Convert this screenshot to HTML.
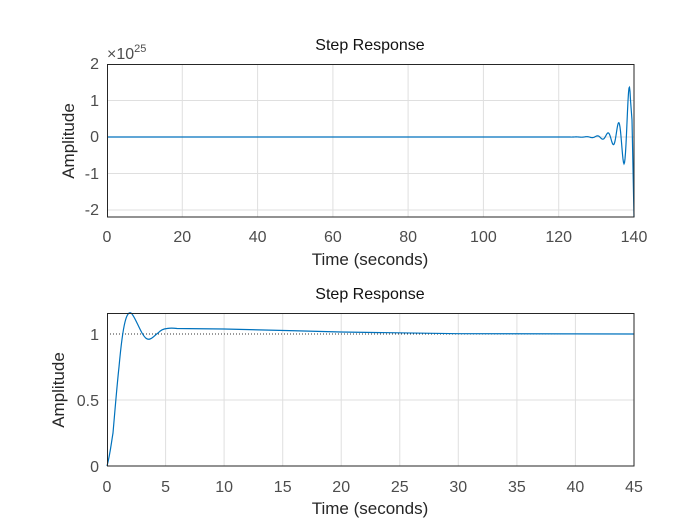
<!DOCTYPE html>
<html><head><style>body{margin:0;background:#fff}svg{display:block}</style></head><body>
<svg width="700" height="525" xmlns="http://www.w3.org/2000/svg" font-family="Liberation Sans, sans-serif">
<rect width="700" height="525" fill="#fff"/>
<!-- TOP -->
<g stroke="#dfdfdf" stroke-width="1">
<line x1="182.3" y1="64" x2="182.3" y2="217"/><line x1="257.6" y1="64" x2="257.6" y2="217"/><line x1="332.9" y1="64" x2="332.9" y2="217"/><line x1="408.1" y1="64" x2="408.1" y2="217"/><line x1="483.4" y1="64" x2="483.4" y2="217"/><line x1="558.7" y1="64" x2="558.7" y2="217"/>
<line x1="107" y1="100.5" x2="634" y2="100.5"/><line x1="107" y1="137" x2="634" y2="137"/><line x1="107" y1="173.5" x2="634" y2="173.5"/><line x1="107" y1="210" x2="634" y2="210"/>
</g>
<path id="osc" d="M107,137 L634,137" fill="none" stroke="#0072bd" stroke-width="1.2"/>
<script>
(function(){var d="M107,137 L570,137";for(var x=570;x<=630.5;x+=0.5){var A=49*Math.exp((x-629)/8.5);var y=137-A*Math.cos(Math.PI*(x-629)/5.3);d+=" L"+x+","+y.toFixed(2);}d+=" L632,120 L634,217";document.getElementById("osc").setAttribute("d",d);})();
</script>
<rect x="107.5" y="64.5" width="526.5" height="152.5" fill="none" stroke="#262626" stroke-width="1"/>
<g fill="#4d4d4d" font-size="16" text-anchor="middle">
<text x="107" y="242">0</text><text x="182.3" y="242">20</text><text x="257.6" y="242">40</text><text x="332.9" y="242">60</text><text x="408.1" y="242">80</text><text x="483.4" y="242">100</text><text x="558.7" y="242">120</text><text x="634" y="242">140</text>
</g>
<g fill="#4d4d4d" font-size="16" text-anchor="end">
<text x="99" y="69">2</text><text x="99" y="106">1</text><text x="99" y="142">0</text><text x="99" y="179">-1</text><text x="99" y="215">-2</text>
</g>
<text x="107" y="59" fill="#4d4d4d" font-size="16">×10<tspan font-size="11" dy="-7">25</tspan></text>
<text x="370" y="50" font-size="16" text-anchor="middle" fill="#111">Step Response</text>
<text x="370" y="265" font-size="17" text-anchor="middle" fill="#262626">Time (seconds)</text>
<text transform="translate(74,141) rotate(-90)" font-size="17" text-anchor="middle" fill="#262626">Amplitude</text>
<!-- BOTTOM -->
<g stroke="#dfdfdf" stroke-width="1">
<line x1="165.6" y1="313" x2="165.6" y2="466"/><line x1="224.1" y1="313" x2="224.1" y2="466"/><line x1="282.7" y1="313" x2="282.7" y2="466"/><line x1="341.2" y1="313" x2="341.2" y2="466"/><line x1="399.8" y1="313" x2="399.8" y2="466"/><line x1="458.3" y1="313" x2="458.3" y2="466"/><line x1="516.9" y1="313" x2="516.9" y2="466"/><line x1="575.4" y1="313" x2="575.4" y2="466"/>
<line x1="107" y1="400" x2="634" y2="400"/>
</g>
<line x1="107" y1="334" x2="634" y2="334" stroke="#333" stroke-width="1" stroke-dasharray="1,2"/>
<path d="M107,466 C110,455 111,445 113,433 C115,410 117,385 119,367 C121,345 123,330 125,322 C127,314 129,312 131,313 C134,315 138,326 142,333 C145,338 147,340 150,339 C153,338 155,335 158,333 C161,330 163,329 167,328.5 C170,328 173,328 177,328.5 L224,329 C270,330 300,331 341,332 C400,333 430,333.6 458,333.7 L634,334" fill="none" stroke="#0072bd" stroke-width="1.2"/>
<rect x="107.5" y="313.5" width="526.5" height="152.5" fill="none" stroke="#262626" stroke-width="1"/>
<g fill="#4d4d4d" font-size="16" text-anchor="middle">
<text x="107" y="492">0</text><text x="165.6" y="492">5</text><text x="224.1" y="492">10</text><text x="282.7" y="492">15</text><text x="341.2" y="492">20</text><text x="399.8" y="492">25</text><text x="458.3" y="492">30</text><text x="516.9" y="492">35</text><text x="575.4" y="492">40</text><text x="634" y="492">45</text>
</g>
<g fill="#4d4d4d" font-size="16" text-anchor="end">
<text x="99" y="340">1</text><text x="99" y="406">0.5</text><text x="99" y="472">0</text>
</g>
<text x="370" y="299" font-size="16" text-anchor="middle" fill="#111">Step Response</text>
<text x="370" y="514" font-size="17" text-anchor="middle" fill="#262626">Time (seconds)</text>
<text transform="translate(64,390) rotate(-90)" font-size="17" text-anchor="middle" fill="#262626">Amplitude</text>
</svg>
</body></html>
